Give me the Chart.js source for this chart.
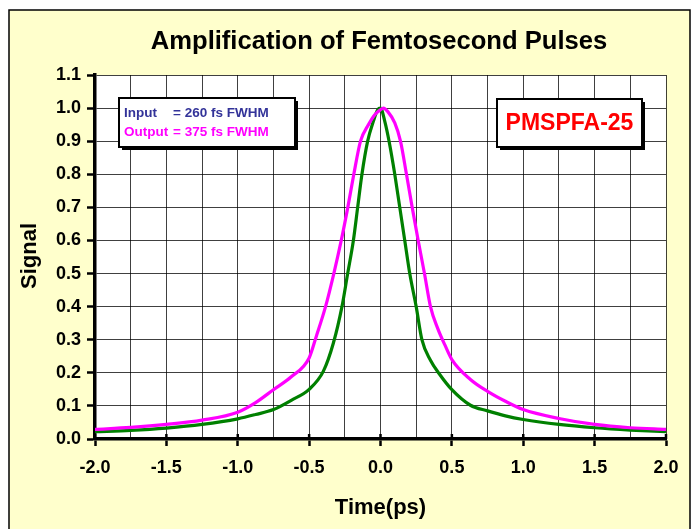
<!DOCTYPE html>
<html><head><meta charset="utf-8">
<script src="https://cdn.jsdelivr.net/npm/chart.js@4.4.1/dist/chart.umd.min.js"></script>
<style>html,body{margin:0;padding:0;background:#fff;}#c{display:block;}</style>
</head><body>
<canvas id="c" width="694" height="529"></canvas>
<script>
const titleText = 'Amplification of Femtosecond Pulses';
const xTitle = 'Time(ps)';
const yTitle = 'Signal';
const legendInputLabel = 'Input';
const legendInputValue = '= 260 fs FWHM';
const legendOutputLabel = 'Output';
const legendOutputValue = '= 375 fs FWHM';
const productLabel = 'PMSPFA-25';

const inputTime   = [-2.0,-1.75,-1.5,-1.25,-1.0,-0.875,-0.75,-0.625,-0.5,-0.4,-0.33,-0.27,-0.23,-0.19,-0.16,-0.13,-0.09,-0.05,-0.02,0.0,0.03,0.06,0.1,0.135,0.17,0.205,0.25,0.29,0.35,0.41,0.5,0.63,0.75,0.875,1.0,1.25,1.5,1.75,2.0];
const inputSignal = [0.022,0.026,0.033,0.044,0.061,0.074,0.089,0.117,0.15,0.205,0.29,0.40,0.50,0.60,0.70,0.80,0.90,0.96,0.995,1.0,0.96,0.90,0.80,0.70,0.60,0.50,0.40,0.30,0.238,0.198,0.149,0.102,0.085,0.07,0.059,0.044,0.034,0.027,0.022];

const outputTime   = [-2.0,-1.75,-1.5,-1.25,-1.0,-0.875,-0.75,-0.625,-0.5,-0.45,-0.385,-0.327,-0.275,-0.229,-0.187,-0.14,-0.084,-0.04,0.0,0.02,0.05,0.1,0.14,0.182,0.222,0.264,0.308,0.35,0.4,0.45,0.5,0.63,0.75,0.875,1.0,1.25,1.5,1.75,2.0];
const outputSignal = [0.029,0.035,0.044,0.057,0.081,0.11,0.149,0.188,0.245,0.31,0.40,0.50,0.60,0.70,0.80,0.90,0.95,0.98,0.995,1.0,0.99,0.955,0.90,0.80,0.70,0.60,0.50,0.40,0.335,0.285,0.24,0.18,0.144,0.114,0.089,0.062,0.044,0.034,0.029];

const FONT = '"Liberation Sans", Arial, sans-serif';

const decor = {
  id: 'decor',
  beforeDraw(chart) {
    const ctx = chart.ctx, a = chart.chartArea;
    ctx.save();
    ctx.fillStyle = '#ffffff';
    ctx.fillRect(0, 0, chart.width, chart.height);
    ctx.fillStyle = '#FFFFCC';
    ctx.fillRect(9, 10, 681, 540);
    ctx.strokeStyle = '#000';
    ctx.lineWidth = 1.5;
    ctx.strokeRect(9, 10, 681, 540);
    ctx.fillStyle = '#ffffff';
    ctx.fillRect(a.left, a.top, a.right - a.left, a.bottom - a.top);
    ctx.restore();
  },
  afterDatasetsDraw(chart) {
    const ctx = chart.ctx, a = chart.chartArea;
    ctx.save();
    const xs = chart.scales.x;
    ctx.strokeStyle = '#000'; ctx.lineWidth = 2.5;
    xs.ticks.forEach(t => {
      if (Math.abs(t.value * 2 - Math.round(t.value * 2)) < 1e-6) {
        const px = xs.getPixelForValue(t.value);
        ctx.beginPath(); ctx.moveTo(px, a.bottom - 5); ctx.lineTo(px, a.bottom); ctx.stroke();
      }
    });
    // legend box
    ctx.fillStyle = '#000';
    ctx.fillRect(122, 101, 176, 49);
    ctx.fillStyle = '#fff';
    ctx.fillRect(119, 98, 176, 49);
    ctx.strokeStyle = '#000'; ctx.lineWidth = 2;
    ctx.strokeRect(119, 98, 176, 49);
    ctx.font = 'bold 13.5px ' + FONT;
    ctx.textBaseline = 'middle'; ctx.textAlign = 'left';
    ctx.fillStyle = '#333399';
    ctx.fillText(legendInputLabel, 124, 113);
    ctx.fillText(legendInputValue, 173, 113);
    ctx.fillStyle = '#FF00FF';
    ctx.fillText(legendOutputLabel, 124, 132);
    ctx.fillText(legendOutputValue, 173, 132);
    // product box
    ctx.fillStyle = '#000';
    ctx.fillRect(500, 102, 145, 48);
    ctx.fillStyle = '#fff';
    ctx.fillRect(497, 99, 145, 48);
    ctx.strokeStyle = '#000'; ctx.lineWidth = 2;
    ctx.strokeRect(497, 99, 145, 48);
    ctx.font = 'bold 23px ' + FONT;
    ctx.textAlign = 'center';
    ctx.fillStyle = '#FF0000';
    ctx.fillText(productLabel, 569.5, 124);
    ctx.restore();
  },
  afterDraw(chart) {
    const ctx = chart.ctx, a = chart.chartArea;
    ctx.save();
    ctx.fillStyle = '#000';
    ctx.textAlign = 'center'; ctx.textBaseline = 'middle';
    ctx.font = 'bold 25.6px ' + FONT;
    ctx.fillText(titleText, 379, 42);
    ctx.font = 'bold 22px ' + FONT;
    ctx.fillText(xTitle, (a.left + a.right) / 2, 508);
    ctx.translate(30, 256);
    ctx.rotate(-Math.PI / 2);
    ctx.fillText(yTitle, 0, 0);
    ctx.restore();
  }
};

const isMajor = v => Math.abs(v * 2 - Math.round(v * 2)) < 1e-6;

new Chart(document.getElementById('c'), {
  type: 'line',
  data: {
    datasets: [
      { label: 'Output', data: outputTime.map((t, i) => ({ x: t, y: outputSignal[i] })),
        borderColor: '#FF00FF', borderWidth: 3.2, pointRadius: 0, cubicInterpolationMode: 'monotone', order: 1 },
      { label: 'Input', data: inputTime.map((t, i) => ({ x: t, y: inputSignal[i] })),
        borderColor: '#008000', borderWidth: 3.2, pointRadius: 0, cubicInterpolationMode: 'monotone', order: 2 }
    ]
  },
  options: {
    responsive: false, animation: false,
    layout: { padding: { top: 75, right: 28, left: 0, bottom: 0 } },
    plugins: { legend: { display: false }, title: { display: false }, tooltip: { enabled: false } },
    scales: {
      x: {
        type: 'linear', min: -2, max: 2,
        afterFit(s) { s.height = 90; },
        ticks: {
          stepSize: 0.25, autoSkip: false, maxRotation: 0, padding: 11,
          color: '#000', font: { family: FONT, size: 18, weight: 'bold' },
          callback: v => isMajor(v) ? v.toFixed(1) : ''
        },
        grid: {
          color: 'rgba(0,0,0,0.75)', lineWidth: 1, drawTicks: true, tickLength: 7,
          tickColor: c => isMajor(c.tick.value) ? '#000' : 'rgba(0,0,0,0)', tickWidth: 2.5
        },
        border: { color: '#000', width: 3.5 }
      },
      y: {
        type: 'linear', min: 0, max: 1.1,
        afterFit(s) { s.width = 95; },
        ticks: {
          stepSize: 0.1, padding: 6, color: '#000',
          font: { family: FONT, size: 18, weight: 'bold' },
          callback: v => v.toFixed(1)
        },
        grid: { color: 'rgba(0,0,0,0.75)', lineWidth: 1, tickLength: 8, tickColor: '#000', tickWidth: 2.5 },
        border: { color: '#000', width: 3.5 }
      }
    }
  },
  plugins: [decor]
});
</script>
</body></html>
